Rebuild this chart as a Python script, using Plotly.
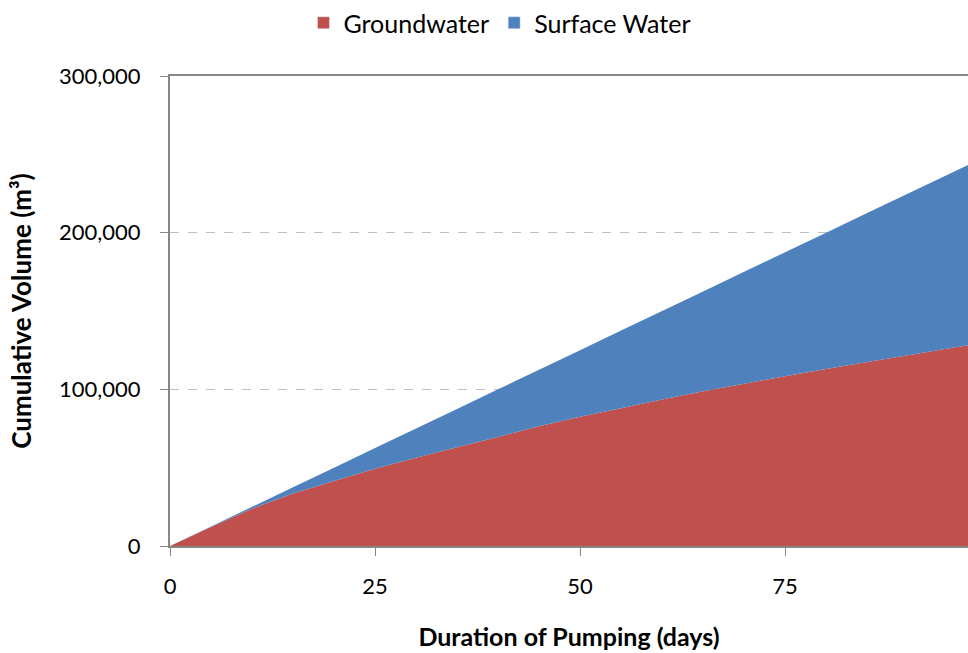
import plotly.graph_objects as go

days = [0, 5, 10, 15, 20, 25, 30, 35, 40, 45, 50, 55, 60, 65, 70, 75, 80, 85, 90, 95, 100]
groundwater = [0, 12200, 23800, 33500, 41500, 49300, 56300, 63000, 69600, 76500, 82500,
               88000, 93500, 98800, 103600, 108300, 113000, 117500, 121800, 126200, 130500]
surface_water = [0, 300, 1200, 4000, 8500, 13200, 18700, 24500, 30400, 36000, 42500,
                 49500, 56500, 63700, 71400, 79200, 87000, 95000, 103200, 111300, 119500]
x_ticks = [0, 25, 50, 75]
y_ticks = [0, 100000, 200000, 300000]
y_tick_labels = ["0", "100,000", "200,000", "300,000"]

FONT = "Lato, 'Open Sans', sans-serif"
RED = "#C0504D"
BLUE = "#4F81BD"

fig = go.Figure()
fig.add_trace(go.Scatter(x=days, y=groundwater, name="Groundwater", stackgroup="one",
                         mode="none", fillcolor=RED, line=dict(width=0), showlegend=False))
fig.add_trace(go.Scatter(x=days, y=surface_water, name="Surface Water", stackgroup="one",
                         mode="none", fillcolor=BLUE, line=dict(width=0), showlegend=False))
# legend entries (square swatches)
fig.add_trace(go.Bar(x=[None], y=[None], name="Groundwater", marker=dict(color=RED)))
fig.add_trace(go.Bar(x=[None], y=[None], name="Surface Water", marker=dict(color=BLUE)))

fig.update_layout(
    width=968, height=653,
    margin=dict(l=170, r=0, t=76, b=107, autoexpand=False),
    plot_bgcolor="white", paper_bgcolor="white",
    font=dict(family=FONT, size=22, color="#000000"),
    showlegend=True,
    legend=dict(orientation="h", x=0.4135, xanchor="center", yref="container", y=1.0,
                yanchor="top", font=dict(size=25), traceorder="normal", itemwidth=30),
    xaxis=dict(range=[0, 97.3], tickvals=x_ticks, ticks="outside", ticklen=8,
               tickcolor="#868686", showline=True, linecolor="#868686", linewidth=2,
               mirror=True, showgrid=False, zeroline=False, ticklabelstandoff=12,
               title=dict(text="<b>Duration of Pumping (days)</b>", font=dict(size=25), standoff=30)),
    yaxis=dict(range=[0, 300000], tickvals=y_ticks, ticktext=y_tick_labels, ticks="outside",
               ticklen=8, tickcolor="#868686", showline=True, linecolor="#868686", linewidth=2,
               showgrid=True, gridcolor="#BFBFBF", griddash="dash", gridwidth=1,
               zeroline=False, ticklabelstandoff=15,
               title=dict(text="<b>Cumulative Volume (m³)</b>", font=dict(size=26), standoff=20)),
)

fig.write_html("out.html", config={"displayModeBar": False},
               post_script="document.body.style.margin='0';document.body.style.overflow='hidden';")
